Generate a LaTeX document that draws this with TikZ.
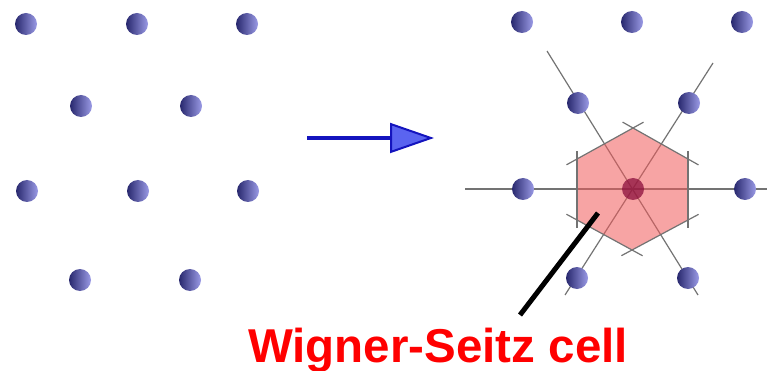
\documentclass[tikz,border=0pt]{standalone}
\usepackage{fontspec}
\newfontfamily\labelfont{Liberation Sans}
\usetikzlibrary{arrows.meta}
\definecolor{atomdark}{RGB}{40,40,110}
\definecolor{atommid}{RGB}{100,100,190}
\definecolor{atomlight}{RGB}{155,155,230}
\definecolor{cellpink}{RGB}{240,90,90}
\definecolor{arrowblue}{RGB}{20,20,190}
\definecolor{arrowfill}{RGB}{90,100,240}

\begin{document}
\begin{tikzpicture}[x=1pt, y=-1pt,
	atom/.style={circle, minimum size=22pt, inner sep=0pt, left color=atomdark, middle color=atommid, right color=atomlight},
	bisect/.style={draw=black!55, line width=1.2pt}]
	\useasboundingbox (0,0) rectangle (767,371);
	% left: the bare lattice
	\node[atom] (a1) at (26,24) {};  \node[atom] (a2) at (137,24) {};  \node[atom] (a3) at (247,24) {};
	\node[atom] (b1) at (81,106) {}; \node[atom] (b2) at (191,106) {};
	\node[atom] (c1) at (27,191) {}; \node[atom] (c2) at (138,191) {}; \node[atom] (c3) at (248,191) {};
	\node[atom] (d1) at (80,280) {}; \node[atom] (d2) at (190,280) {};
	% arrow
	\coordinate (from) at (307,138);
	\coordinate (to) at (434,138);
	\draw[arrowblue, line width=4.5pt, -{Triangle[length=44pt, width=30pt, fill=arrowfill, line width=2pt]}] (from) -- (to);
	% right: lines to the neighbours
	\coordinate (ul) at (547,51);  \coordinate (lr) at (698,295);
	\coordinate (ur) at (713,63);  \coordinate (ll) at (565,295);
	\coordinate (w) at (465,189);  \coordinate (e) at (767,189);
	\draw[bisect] (ul) -- (lr);
	\draw[bisect] (ur) -- (ll);
	\draw[bisect] (w) -- (e);
	% the cell
	\coordinate (h1) at (633,128); \coordinate (h2) at (688,159); \coordinate (h3) at (688,220);
	\coordinate (h4) at (632,250); \coordinate (h5) at (577,220); \coordinate (h6) at (577,159);
	\fill[cellpink, fill opacity=0.55] (h1) -- (h2) -- (h3) -- (h4) -- (h5) -- (h6) -- cycle;
	\draw[bisect, shorten <=-12pt, shorten >=-12pt] (h1) -- (h2);
	\draw[bisect, shorten <=-8pt, shorten >=-8pt] (h2) -- (h3);
	\draw[bisect, shorten <=-12pt, shorten >=-12pt] (h3) -- (h4);
	\draw[bisect, shorten <=-12pt, shorten >=-12pt] (h4) -- (h5);
	\draw[bisect, shorten <=-8pt, shorten >=-8pt] (h5) -- (h6);
	\draw[bisect, shorten <=-12pt, shorten >=-12pt] (h6) -- (h1);
	\node[atom] (p1) at (522,22) {};  \node[atom] (p2) at (632,22) {};  \node[atom] (p3) at (742,22) {};
	\node[atom] (q1) at (578,103) {}; \node[atom] (q2) at (689,103) {};
	\node[atom] (r1) at (523,189) {}; \node[atom] (r3) at (745,189) {};
	\node[atom] (s1) at (577,278) {}; \node[atom] (s2) at (688,278) {};
	\node[circle, minimum size=22pt, inner sep=0pt, fill={rgb,255:red,140;green,15;blue,60}, fill opacity=0.75] (r2) at (633,189) {};
	% label
	\node[anchor=base, text=red, inner sep=0pt, font=\labelfont\bfseries\fontsize{47.5}{50}\selectfont] (ws) at (438,362) {Wigner-Seitz cell};
	\coordinate (tip) at (598,213);
	\coordinate (foot) at (520,315);
	\draw[line width=5pt] (foot) -- (tip);
\end{tikzpicture}
\end{document}
